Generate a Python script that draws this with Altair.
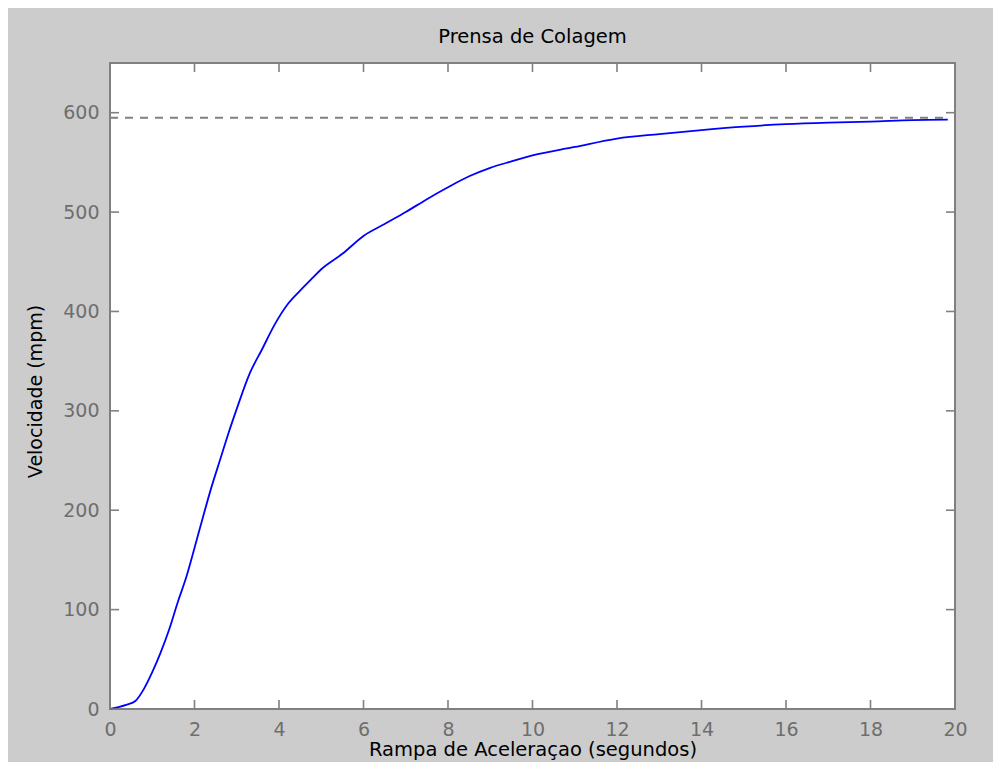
import altair as alt
import pandas as pd

# Curve data
t_sec = [0, 0.2, 0.4, 0.6, 0.8, 1.0, 1.2, 1.4, 1.6, 1.8, 2.0, 2.2, 2.4, 2.6, 2.8,
         3.0, 3.3, 3.6, 3.9, 4.2, 4.5, 4.8, 5.0, 5.5, 6.0, 6.5, 7.0, 7.5, 8.0,
         8.5, 9.0, 9.5, 10, 11, 12, 13, 14, 15, 16, 17, 18, 19, 19.83]
vel = [0, 2, 4.5, 8, 20, 37, 57, 80, 107, 132, 162, 193, 223, 250, 277,
       302, 337, 362, 387, 407, 421, 434, 442.5, 458, 476, 488, 500, 513, 525,
       536, 544.5, 551, 557, 565.5, 574, 578.5, 582.5, 586, 588.5, 590, 591, 592.5, 593]

ref_level = [595]
ref_x = [0]
ref_x2 = [19.83]

x_ticks = [0, 2, 4, 6, 8, 10, 12, 14, 16, 18, 20]
y_ticks = [0, 100, 200, 300, 400, 500, 600]

W, H = 845, 646
FONT = "DejaVu Sans"
GRAY = "#808080"

df = pd.DataFrame({"t": t_sec, "v": vel})
ref = pd.DataFrame({"y": ref_level, "x": ref_x, "x2": ref_x2})
xt = pd.DataFrame({"x": x_ticks})
yt = pd.DataFrame({"y": y_ticks})

xscale = alt.Scale(domain=[0, 20], nice=False, zero=False)
yscale = alt.Scale(domain=[0, 650], nice=False, zero=False)

xaxis = alt.Axis(values=x_ticks, title="Rampa de Aceleraçao (segundos)", grid=False,
                 ticks=False, tickSize=0, domain=False, labelPadding=11,
                 labelFlush=False, labelOverlap=False,
                 labelFont=FONT, labelFontSize=19, labelColor="#6e6e6e",
                 titleFont=FONT, titleFontSize=19.5, titleFontWeight="normal",
                 titleColor="#000000", titleBaseline="alphabetic", titleY=46)
yaxis = alt.Axis(values=y_ticks, title="Velocidade (mpm)", grid=False,
                 ticks=False, tickSize=0, domain=False, labelPadding=11,
                 labelFlush=False, labelOverlap=False,
                 labelFont=FONT, labelFontSize=19, labelColor="#6e6e6e",
                 titleFont=FONT, titleFontSize=19, titleFontWeight="normal",
                 titleColor="#000000", titleBaseline="alphabetic", titleX=-69,
                 titleY=328, titleAngle=270)

line = alt.Chart(df).mark_line(color="#0000ff", strokeWidth=1.8, interpolate="monotone").encode(
    x=alt.X("t:Q", scale=xscale, axis=xaxis),
    y=alt.Y("v:Q", scale=yscale, axis=yaxis),
)

dashed = alt.Chart(ref).mark_rule(color=GRAY, strokeWidth=2, strokeDash=[8, 7]).encode(
    x=alt.X("x:Q", scale=xscale), x2="x2:Q", y=alt.Y("y:Q", scale=yscale)
)

tick_style = dict(color=GRAY, strokeWidth=1.6)
bt = alt.Chart(xt).mark_rule(**tick_style).encode(
    x=alt.X("x:Q", scale=xscale), y=alt.value(H), y2=alt.value(H - 9))
tt = alt.Chart(xt).mark_rule(**tick_style).encode(
    x=alt.X("x:Q", scale=xscale), y=alt.value(0), y2=alt.value(9))
lt = alt.Chart(yt).mark_rule(**tick_style).encode(
    y=alt.Y("y:Q", scale=yscale), x=alt.value(0), x2=alt.value(9))
rt = alt.Chart(yt).mark_rule(**tick_style).encode(
    y=alt.Y("y:Q", scale=yscale), x=alt.value(W), x2=alt.value(W - 9))

chart = alt.layer(dashed, line, bt, tt, lt, rt).properties(
    width=W, height=H,
    title=alt.TitleParams("Prensa de Colagem", font=FONT, fontSize=19.5,
                          fontWeight="normal", color="#000000", anchor="middle",
                          baseline="alphabetic", offset=0),
    autosize=alt.AutoSizeParams(type="none"),
    padding={"left": 102, "top": 55, "right": 38, "bottom": 53},
).configure(background="#cccccc").configure_view(
    stroke=GRAY, strokeWidth=2, fill="#ffffff"
)

chart.save("out.html", embed_options={"renderer": "svg", "actions": False})
